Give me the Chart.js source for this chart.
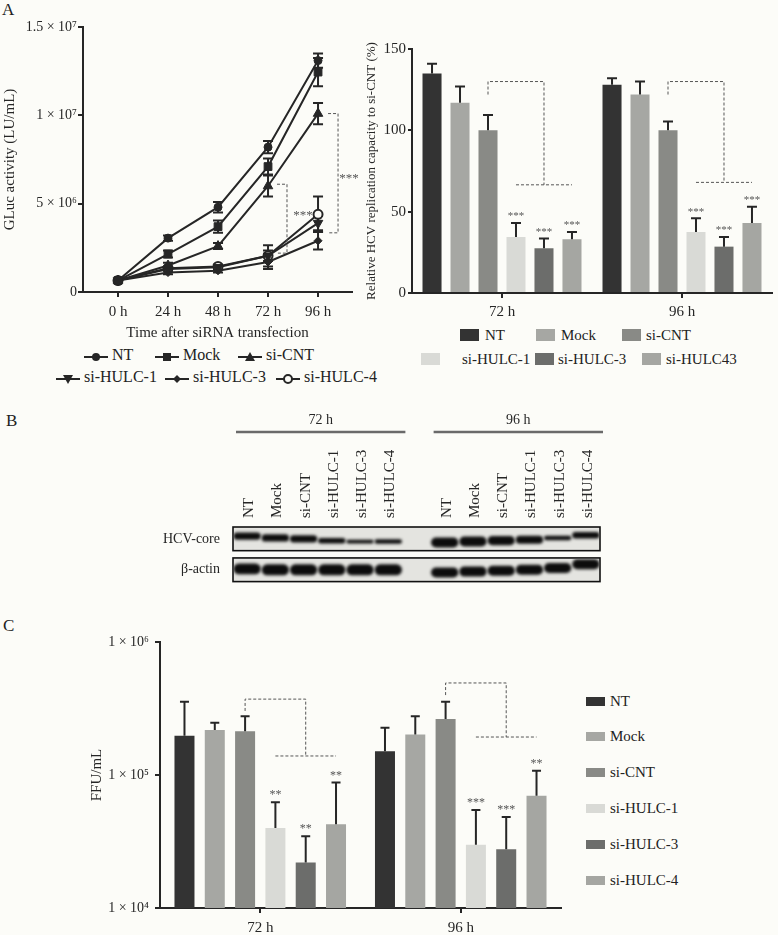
<!DOCTYPE html>
<html lang="en">
<head>
<meta charset="UTF-8">
<title>HULC knockdown and HCV replication</title>
<script src="https://cdn.jsdelivr.net/npm/chart.js"></script>
<style>
  body { margin: 0; background: #fcfcf8; }
  #page { position: relative; width: 778px; height: 935px; overflow: hidden;
          font-family: "Liberation Serif", "DejaVu Serif", serif; color: #222; }
  canvas { position: absolute; }
  .tag { position: absolute; font-size: 17px; line-height: 1; }
  .leg { position: absolute; font-size: 16px; line-height: 1; white-space: nowrap; transform: translateY(-50%); }
  .leg.small { font-size: 15px; }
  .box { position: absolute; }
</style>
</head>
<body>
<div id="page">
  <div class="tag" style="left:2px;top:1px">A</div>
  <div class="tag" style="left:6px;top:412px">B</div>
  <div class="tag" style="left:3px;top:617px">C</div>
  <canvas id="glucChart" width="362" height="345" style="left:0;top:0"></canvas>
  <canvas id="replicChart" width="416" height="322" style="left:362px;top:0"></canvas>
  <canvas id="blotChart" width="470" height="195" style="left:150px;top:400px"></canvas>
  <canvas id="ffuChart" width="500" height="335" style="left:80px;top:600px"></canvas>
</div>
<script>
// ---- data ----
const seriesNames = ['NT', 'Mock', 'si-CNT', 'si-HULC-1', 'si-HULC-3', 'si-HULC-4'];
const legendA2Names = ['NT', 'Mock', 'si-CNT', 'si-HULC-1', 'si-HULC-3', 'si-HULC43'];
const barColors = ['#333333', '#a6a7a3', '#898a86', '#d9dad6', '#6c6d6b', '#a5a6a2'];

// panel A, GLuc activity over time
const timeHours = [0, 24, 48, 72, 96];
const timeLabels = ['0 h', '24 h', '48 h', '72 h', '96 h'];
const glucTicks = [0, 5e6, 1e7, 1.5e7];
const glucTickLabels = ['0', '5 × 10⁶', '1 × 10⁷', '1.5 × 10⁷'];
const glucNT = [6.5e5, 3.05e6, 4.8e6, 8.2e6, 1.31e7];
const glucMock = [6.5e5, 2.15e6, 3.7e6, 7.1e6, 1.245e7];
const glucCNT = [6.5e5, 1.5e6, 2.6e6, 6.0e6, 1.01e7];
const glucH1 = [6.5e5, 1.3e6, 1.4e6, 2.05e6, 3.9e6];
const glucH3 = [6.5e5, 1.1e6, 1.2e6, 1.7e6, 2.9e6];
const glucH4 = [6.5e5, 1.35e6, 1.45e6, 2.05e6, 4.4e6];
const glucErrNT = [5e4, 1.5e5, 3e5, 3.5e5, 4e5];
const glucErrMock = [5e4, 2e5, 3.5e5, 4.5e5, 8e5];
const glucErrCNT = [5e4, 1.5e5, 1.7e5, 6e5, 6e5];
const glucErrH1 = [5e4, 1e5, 1e5, 3e5, 4e5];
const glucErrH3 = [5e4, 1e5, 1e5, 4e5, 5e5];
const glucErrH4 = [5e4, 1e5, 1e5, 6e5, 1e6];
const glucBrackets = [
  { at: 72, x0: 4.3, x1: 9.1, top: 6.1e6, bottom: 2.2e6, starX: 16.8, starY: 4.5e6, text: '***' },
  { at: 96, x0: 4.8, x1: 9.6, top: 1.01e7, bottom: 3.35e6, starX: 14.9, starY: 6.6e6, text: '***' }
];

// panel A, relative replication (%)
const groupLabels = ['72 h', '96 h'];
const replic72 = [135, 117, 100, 34.5, 27.5, 33];
const replic96 = [128, 122, 100, 37.5, 28.5, 43];
const replicErr72 = [6, 10, 9.5, 8.5, 6, 4.5];
const replicErr96 = [4, 8, 5.5, 8.5, 6, 10];
const replicSig72 = ['', '', '', '***', '***', '***'];
const replicSig96 = ['', '', '', '***', '***', '***'];
const replicBrackets = [
  { group: 0, start: 122, top: 130, bottom: 66.5 },
  { group: 1, start: 122, top: 130, bottom: 68 }
];

// panel B, western blot lanes
const laneLabels = ['NT', 'Mock', 'si-CNT', 'si-HULC-1', 'si-HULC-3', 'si-HULC-4', '',
                    'NT', 'Mock', 'si-CNT', 'si-HULC-1', 'si-HULC-3', 'si-HULC-4'];
const blotGroups = [{ label: '72 h', first: 0, last: 5 }, { label: '96 h', first: 7, last: 12 }];
const blotRowNames = ['β-actin', 'HCV-core'];
const blotRowCenters = [13, 47];
const coreLevel = [50, 48, 47, 45, 44, 44, null, 43, 44, 45, 46, 48, 51];
const coreThick = [8, 8, 8, 6, 4, 5, null, 11, 11, 10, 9, 5, 7];
const actinLevel = [14, 13, 13, 13, 13, 13, null, 10, 11, 12, 13, 15, 19];
const actinThick = [12, 12, 12, 12, 12, 12, null, 11, 11, 11, 11, 11, 11];

// panel C, FFU/mL
const ffuTicks = [1e4, 1e5, 1e6];
const ffuTickLabels = ['1 × 10⁴', '1 × 10⁵', '1 × 10⁶'];
const ffu72 = [1.97e5, 2.18e5, 2.13e5, 3.99e4, 2.2e4, 4.26e4];
const ffu96 = [1.51e5, 2.02e5, 2.64e5, 2.99e4, 2.76e4, 6.98e4];
const ffuErr72 = [1.59e5, 2.9e4, 6.4e4, 2.25e4, 1.26e4, 4.54e4];
const ffuErr96 = [7.6e4, 7.5e4, 9.2e4, 2.46e4, 2.07e4, 3.8e4];
const ffuSig72 = ['', '', '', '**', '**', '**'];
const ffuSig96 = ['', '', '', '***', '***', '**'];
const ffuBrackets = [
  { group: 0, start: 3.03e5, top: 3.72e5, bottom: 1.39e5 },
  { group: 1, start: 3.99e5, top: 4.92e5, bottom: 1.93e5 }
];

// ---- style ----
const ink = '#262626';
const paper = '#fcfcf8';
Chart.defaults.font.family = '"Liberation Serif", "DejaVu Serif", serif';
Chart.defaults.color = ink;

// ---- plugins ----
const errorBars = {
  id: 'errorBars',
  draw(chart, opts) {
    const ctx = chart.ctx, ys = chart.scales.y;
    ctx.save();
    ctx.strokeStyle = ink;
    ctx.lineWidth = 2;
    chart.data.datasets.forEach((ds, i) => {
      const meta = chart.getDatasetMeta(i);
      (ds.errors || []).forEach((e, j) => {
        const p = meta.data[j];
        if (!p || !e) return;
        const d = ds.data[j];
        const v = typeof d === 'object' ? d.y : d;
        const yt = ys.getPixelForValue(v + e);
        const yb = opts.up ? ys.getPixelForValue(v) : ys.getPixelForValue(v - e);
        const w = opts.cap / 2;
        ctx.beginPath();
        ctx.moveTo(p.x, yb); ctx.lineTo(p.x, yt);
        ctx.moveTo(p.x - w, yt); ctx.lineTo(p.x + w, yt);
        if (!opts.up) { ctx.moveTo(p.x - w, yb); ctx.lineTo(p.x + w, yb); }
        ctx.stroke();
        const s = ds.stars && ds.stars[j];
        if (s) {
          ctx.fillStyle = '#555';
          ctx.font = opts.starFont;
          ctx.textAlign = 'center';
          ctx.textBaseline = 'bottom';
          ctx.fillText(s, p.x, yt - 1);
        }
      });
    });
    ctx.restore();
  },
  beforeDatasetsDraw(chart, args, opts) { if (!opts.up) this.draw(chart, opts); },
  afterDatasetsDraw(chart, args, opts) { if (opts.up) this.draw(chart, opts); }
};

const barBrackets = {
  id: 'barBrackets',
  afterDatasetsDraw(chart, args, opts) {
    const ctx = chart.ctx, ys = chart.scales.y;
    const bx = (ds, g) => chart.getDatasetMeta(ds).data[g].x;
    ctx.save();
    ctx.setLineDash([3, 2]);
    ctx.lineWidth = 1;
    ctx.strokeStyle = '#555';
    opts.items.forEach(b => {
      const yt = ys.getPixelForValue(b.top), y0 = ys.getPixelForValue(b.start), yb = ys.getPixelForValue(b.bottom);
      const xl = bx(2, b.group), xm = bx(4, b.group);
      ctx.beginPath();
      ctx.moveTo(xl, y0); ctx.lineTo(xl, yt); ctx.lineTo(xm, yt); ctx.lineTo(xm, yb);
      ctx.moveTo(bx(3, b.group), yb); ctx.lineTo(bx(5, b.group), yb);
      ctx.stroke();
    });
    ctx.restore();
  }
};

const lineBrackets = {
  id: 'lineBrackets',
  afterDatasetsDraw(chart, args, opts) {
    const ctx = chart.ctx, xs = chart.scales.x, ys = chart.scales.y;
    ctx.save();
    opts.items.forEach(b => {
      const xa = xs.getPixelForValue(b.at + b.x0), xb = xs.getPixelForValue(b.at + b.x1);
      const yt = ys.getPixelForValue(b.top), yb = ys.getPixelForValue(b.bottom);
      ctx.setLineDash([3, 2]);
      ctx.lineWidth = 1;
      ctx.strokeStyle = '#555';
      ctx.beginPath();
      ctx.moveTo(xa, yt); ctx.lineTo(xb, yt); ctx.lineTo(xb, yb); ctx.lineTo(xa, yb);
      ctx.stroke();
      ctx.fillStyle = '#555';
      ctx.font = '13px "Liberation Serif", serif';
      ctx.textAlign = 'center';
      ctx.textBaseline = 'middle';
      ctx.fillText(b.text, xs.getPixelForValue(b.at + b.starX), ys.getPixelForValue(b.starY) + 3);
    });
    ctx.restore();
  }
};

const blotFrame = {
  id: 'blotFrame',
  beforeDatasetsDraw(chart) {
    const { ctx, chartArea: a, scales: { y } } = chart;
    ctx.save();
    blotRowCenters.forEach(c => {
      const t = y.getPixelForValue(c + 13), b = y.getPixelForValue(c - 13);
      ctx.fillStyle = '#e4e4e0';
      ctx.fillRect(a.left, t, a.right - a.left, b - t);
      ctx.lineWidth = 1.6;
      ctx.strokeStyle = '#111';
      ctx.strokeRect(a.left, t, a.right - a.left, b - t);
    });
    ctx.restore();
    ctx.save();
    ctx.beginPath();
    blotRowCenters.forEach(c => {
      const t = y.getPixelForValue(c + 13), b = y.getPixelForValue(c - 13);
      ctx.rect(a.left + 1, t + 1, a.right - a.left - 2, b - t - 2);
    });
    ctx.clip();
    ctx.filter = 'blur(1.6px)';
  },
  afterDatasetsDraw(chart) {
    const { ctx, chartArea: a, scales: { x } } = chart;
    ctx.restore();
    const half = x.width / laneLabels.length / 2;
    ctx.save();
    blotGroups.forEach(g => {
      const x0 = x.getPixelForValue(g.first) - half + 3, x1 = x.getPixelForValue(g.last) + half + 3;
      ctx.strokeStyle = '#6a6a6a';
      ctx.lineWidth = 2.5;
      ctx.beginPath();
      ctx.moveTo(x0, a.top - 95); ctx.lineTo(x1, a.top - 95);
      ctx.stroke();
      ctx.fillStyle = ink;
      ctx.font = '14px "Liberation Serif", serif';
      ctx.textAlign = 'center';
      ctx.textBaseline = 'middle';
      ctx.fillText(g.label, (x0 + x1) / 2, a.top - 107);
    });
    ctx.restore();
  }
};

const axisFont = { size: 15 };
function axisGrid(len) {
  return { drawOnChartArea: false, tickLength: len, color: ink, lineWidth: 2 };
}

// ---- panel A, line chart ----
const glucSeries = [
  { values: glucNT, err: glucErrNT, point: 'circle', r: 4 },
  { values: glucMock, err: glucErrMock, point: 'rect', r: 5.5 },
  { values: glucCNT, err: glucErrCNT, point: 'triangle', r: 5.5 },
  { values: glucH1, err: glucErrH1, point: 'triangle', r: 5.5, rot: 180 },
  { values: glucH3, err: glucErrH3, point: 'rectRot', r: 4 },
  { values: glucH4, err: glucErrH4, point: 'circle', r: 4.5, open: true }
];
new Chart(document.getElementById('glucChart'), {
  type: 'line',
  data: {
    datasets: glucSeries.map((s, k) => ({
      label: seriesNames[k],
      data: timeHours.map((t, i) => ({ x: t, y: s.values[i] })),
      errors: s.err,
      borderColor: ink,
      backgroundColor: s.open ? paper : ink,
      borderWidth: 2,
      pointStyle: s.point,
      pointRotation: s.rot || 0,
      pointRadius: s.r,
      pointBorderWidth: s.open ? 2 : 1,
      pointBorderColor: ink,
      pointBackgroundColor: s.open ? paper : ink,
      tension: 0
    }))
  },
  options: {
    responsive: false, animation: false, events: [],
    layout: { padding: { top: 27, right: 10 } },
    plugins: {
      legend: { display: false }, tooltip: { enabled: false },
      errorBars: { up: false, cap: 10 },
      lineBrackets: { items: glucBrackets }
    },
    scales: {
      x: {
        type: 'linear', min: -16.8, max: 112.3,
        afterBuildTicks: s => { s.ticks = timeHours.map(v => ({ value: v })); },
        ticks: { callback: (v, i) => timeLabels[i], font: axisFont, padding: 6, maxRotation: 0 },
        grid: axisGrid(5), border: { color: ink, width: 2 },
        title: { display: true, text: 'Time after siRNA transfection', font: axisFont, padding: { top: 0, bottom: 3 } },
        afterFit: s => { s.height = 53; }
      },
      y: {
        min: 0, max: 1.5e7,
        afterBuildTicks: s => { s.ticks = glucTicks.map(v => ({ value: v })); },
        ticks: { callback: (v, i) => glucTickLabels[i], font: { size: 14 }, padding: 1 },
        grid: axisGrid(5), border: { color: ink, width: 2 },
        title: { display: true, text: 'GLuc activity (LU/mL)', font: axisFont, padding: { top: 1 } },
        afterFit: s => { s.width = 83; }
      }
    }
  },
  plugins: [errorBars, lineBrackets]
});

// ---- panel A, bar chart ----
new Chart(document.getElementById('replicChart'), {
  type: 'bar',
  data: {
    labels: groupLabels,
    datasets: seriesNames.map((n, i) => ({
      label: n,
      data: [replic72[i], replic96[i]],
      errors: [replicErr72[i], replicErr96[i]],
      stars: [replicSig72[i], replicSig96[i]],
      backgroundColor: barColors[i],
      categoryPercentage: 0.933, barPercentage: 0.68
    }))
  },
  options: {
    responsive: false, animation: false, events: [],
    layout: { padding: { top: 49, right: 6 } },
    plugins: {
      legend: { display: false }, tooltip: { enabled: false },
      errorBars: { up: true, cap: 10, starFont: '11px "Liberation Serif", serif' },
      barBrackets: { items: replicBrackets }
    },
    scales: {
      x: {
        ticks: { font: axisFont, padding: 5 },
        grid: { ...axisGrid(5), offset: false }, border: { color: ink, width: 2 },
        afterFit: s => { s.height = 29; }
      },
      y: {
        min: 0, max: 150, ticks: { stepSize: 50, font: axisFont, padding: 2 },
        grid: axisGrid(4), border: { color: ink, width: 2 },
        title: { display: true, text: 'Relative HCV replication capacity to si-CNT (%)', font: { size: 13 }, padding: { top: 2 } },
        afterFit: s => { s.width = 50; }
      }
    }
  },
  plugins: [errorBars, barBrackets]
});

// ---- panel B, blot ----
const band = (lvl, th) => lvl.map((c, i) => c === null ? null : [c - th[i] / 2, c + th[i] / 2]);
new Chart(document.getElementById('blotChart'), {
  type: 'bar',
  data: {
    labels: laneLabels,
    datasets: [
      { data: band(coreLevel, coreThick), backgroundColor: '#0c0c0c', borderRadius: 6, borderSkipped: false,
        barPercentage: 0.97, categoryPercentage: 1, grouped: false },
      { data: band(actinLevel, actinThick), backgroundColor: '#0c0c0c', borderRadius: 6, borderSkipped: false,
        barPercentage: 0.97, categoryPercentage: 1, grouped: false }
    ]
  },
  options: {
    responsive: false, animation: false, events: [],
    layout: { padding: { right: 20, bottom: 8 } },
    plugins: { legend: { display: false }, tooltip: { enabled: false } },
    scales: {
      x: {
        position: 'top',
        ticks: { autoSkip: false, minRotation: 90, maxRotation: 90, padding: 1, labelOffset: 20, font: { size: 15 } },
        grid: { display: false }, border: { display: false },
        afterFit: s => { s.height = 127; }
      },
      y: {
        min: 0, max: 60,
        afterBuildTicks: s => { s.ticks = blotRowCenters.map(v => ({ value: v })); },
        ticks: { callback: (v, i) => blotRowNames[i], font: { size: 14 }, padding: 5 },
        grid: { display: false }, border: { display: false },
        afterFit: s => { s.width = 83; }
      }
    }
  },
  plugins: [blotFrame]
});

// ---- panel C, log bar chart ----
new Chart(document.getElementById('ffuChart'), {
  type: 'bar',
  data: {
    labels: groupLabels,
    datasets: seriesNames.map((n, i) => ({
      label: n,
      data: [ffu72[i], ffu96[i]],
      errors: [ffuErr72[i], ffuErr96[i]],
      stars: [ffuSig72[i], ffuSig96[i]],
      backgroundColor: barColors[i],
      categoryPercentage: 0.907, barPercentage: 0.66
    }))
  },
  options: {
    responsive: false, animation: false, events: [],
    layout: { padding: { top: 42, right: 19 } },
    plugins: {
      legend: { display: false }, tooltip: { enabled: false },
      errorBars: { up: true, cap: 9, starFont: '12px "Liberation Serif", serif' },
      barBrackets: { items: ffuBrackets }
    },
    scales: {
      x: {
        ticks: { font: axisFont, padding: 6 },
        grid: { ...axisGrid(5), offset: false }, border: { color: ink, width: 2 },
        afterFit: s => { s.height = 27; }
      },
      y: {
        type: 'logarithmic', min: 1e4, max: 1e6,
        afterBuildTicks: s => { s.ticks = ffuTicks.map(v => ({ value: v })); },
        ticks: { callback: (v, i) => ffuTickLabels[i], font: { size: 14 }, padding: 6 },
        grid: axisGrid(5), border: { color: ink, width: 2 },
        title: { display: true, text: 'FFU/mL', font: axisFont, padding: { top: 8 } },
        afterFit: s => { s.width = 80; }
      }
    }
  },
  plugins: [errorBars, barBrackets]
});

// ---- legends (html) ----
const page = document.getElementById('page');
function addText(txt, x, y, cls) {
  const t = document.createElement('div');
  t.className = 'leg' + (cls ? ' ' + cls : '');
  t.style.left = x + 'px'; t.style.top = y + 'px';
  t.textContent = txt;
  page.appendChild(t);
}
function markerSvg(shape) {
  const f = 'fill="' + ink + '"';
  const m = {
    circle: '<circle cx="12" cy="6" r="4" ' + f + '/>',
    rect: '<rect x="8" y="2" width="8" height="8" ' + f + '/>',
    triangle: '<polygon points="12,1 17,10 7,10" ' + f + '/>',
    triangleDown: '<polygon points="7,2 17,2 12,11" ' + f + '/>',
    diamond: '<polygon points="12,2 16,6 12,10 8,6" ' + f + '/>',
    open: '<circle cx="12" cy="6" r="4" fill="' + paper + '" stroke="' + ink + '" stroke-width="2"/>'
  }[shape];
  return '<svg width="24" height="12"><line x1="0" y1="6" x2="24" y2="6" stroke="' + ink + '" stroke-width="2"/>' + m + '</svg>';
}
const lineLegendShapes = ['circle', 'rect', 'triangle', 'triangleDown', 'diamond', 'open'];
const lineLegendPos = [[84, 355], [155, 355], [238, 355], [56, 377], [165, 377], [276, 377]];
seriesNames.forEach((n, i) => {
  const [x, y] = lineLegendPos[i];
  const ic = document.createElement('div');
  ic.className = 'box';
  ic.style.left = x + 'px'; ic.style.top = (y - 6) + 'px';
  ic.innerHTML = markerSvg(lineLegendShapes[i]);
  page.appendChild(ic);
  addText(n, x + 28, y);
});
function boxLegend(names, pos, w, h) {
  names.forEach((n, i) => {
    const [bx, tx, y] = pos[i];
    const b = document.createElement('div');
    b.className = 'box';
    b.style.cssText = 'left:' + bx + 'px;top:' + (y - h / 2) + 'px;width:' + w + 'px;height:' + h + 'px;background:' + barColors[i];
    page.appendChild(b);
    addText(n, tx, y, 'small');
  });
}
boxLegend(legendA2Names, [[460, 485, 335], [536, 561, 335], [622, 646, 335],
                          [421, 462, 359], [535, 558, 359], [642, 666, 359]], 19, 12);
boxLegend(seriesNames, [[586, 610, 701], [586, 610, 736], [586, 610, 772],
                        [586, 610, 808], [586, 610, 844], [586, 610, 880]], 19, 9);
</script>
</body>
</html>
